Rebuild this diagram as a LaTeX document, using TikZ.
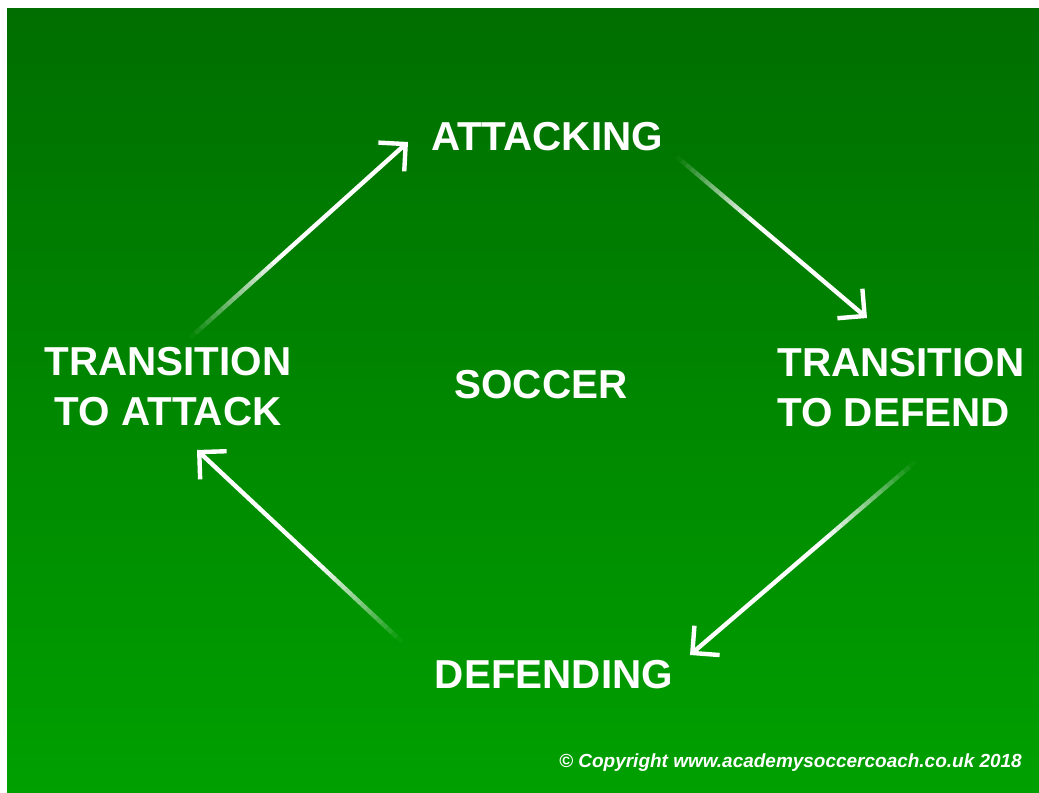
\documentclass[tikz,border=0pt]{standalone}
\usepackage{fontspec}
\setmainfont{Liberation Sans}
\usetikzlibrary{arrows.meta,calc}

\definecolor{pitchtop}{RGB}{0,110,0}
\definecolor{pitchbottom}{RGB}{0,160,0}

\tikzset{
    phase/.style={text=white, inner sep=0pt, font=\fontsize{23}{28.5}\selectfont\bfseries},
    cycleline/.style={white, line width=2.5pt},
    cyclearrow/.style={cycleline, -{Straight Barb[length=11pt,width=22pt]}},
}

% tail fades in, rest of the arrow is solid
\newcommand\fadedarrow[2]{%
    \foreach \k [evaluate=\k as \op using (\k+0.5)/16] in {0,...,15}
        \draw[cycleline, opacity=\op] ($(#1)!\k*0.025!(#2)$) -- ($(#1)!\k*0.025+0.025!(#2)$);
    \draw[cyclearrow] ($(#1)!0.4!(#2)$) -- (#2);
}

\begin{document}
\begin{tikzpicture}
    \useasboundingbox (0,0) rectangle (20.78,15.86);
    \fill[white] (0,0) rectangle (20.78,15.86);
    \shade[top color=pitchtop, bottom color=pitchbottom] (0.14,0) rectangle (20.78,15.68);
    % the four phases
    \node[phase] (attacking) at (10.94,13.12) {ATTACKING};
    \node[phase, align=center] (toattack) at (3.36,8.12) {TRANSITION\\TO ATTACK};
    \node[phase] (soccer) at (10.82,8.16) {SOCCER};
    \node[phase, align=left, anchor=west] (todefend) at (15.54,8.10) {TRANSITION\\TO DEFEND};
    \node[phase] (defending) at (11.08,2.36) {DEFENDING};
    \node[text=white, anchor=east, font=\fontsize{10.8}{13}\selectfont\bfseries\itshape] (copyright) at (20.56,0.60) {© Copyright www.academysoccercoach.co.uk 2018};
    % arrow ends
    \coordinate (a1s) at (3.80,9.10);
    \coordinate (a1e) at (8.16,13.02);
    \coordinate (a2s) at (13.54,12.72);
    \coordinate (a2e) at (17.34,9.50);
    \coordinate (a3s) at (18.30,6.62);
    \coordinate (a3e) at (13.80,2.76);
    \coordinate (a4s) at (8.04,3.02);
    \coordinate (a4e) at (3.94,6.86);
    \fadedarrow{a1s}{a1e}
    \fadedarrow{a2s}{a2e}
    \fadedarrow{a3s}{a3e}
    \fadedarrow{a4s}{a4e}
\end{tikzpicture}
\end{document}
